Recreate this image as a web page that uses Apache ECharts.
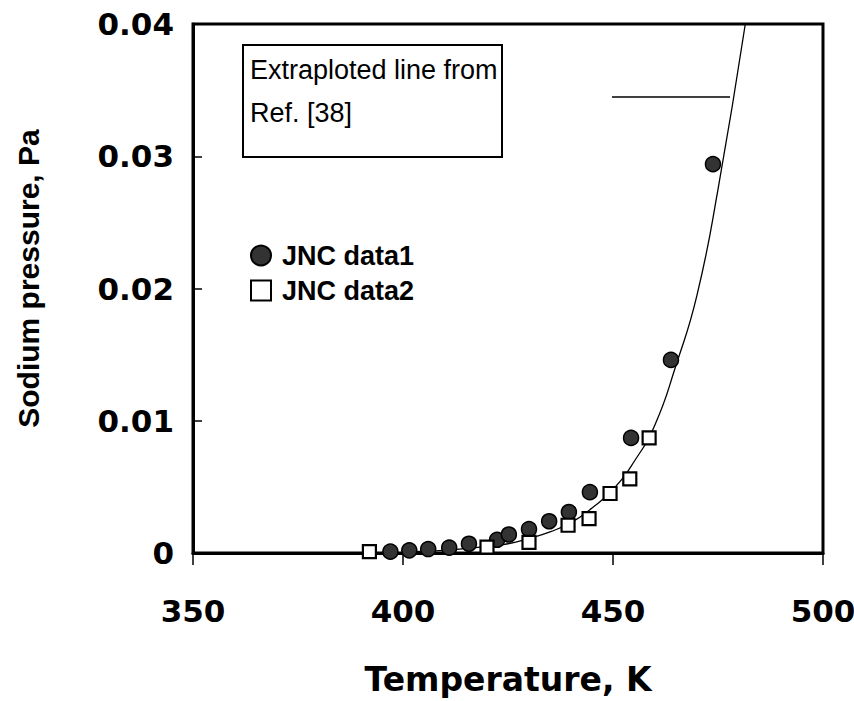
<!DOCTYPE html>
<html>
<head>
<meta charset="utf-8">
<script src="https://cdn.jsdelivr.net/npm/echarts@6/dist/echarts.min.js"></script>
<style>html,body{margin:0;padding:0;background:#fff;}#c{width:854px;height:701px;}</style>
</head>
<body>
<div id="c"></div>
<script>
// Data
var data1T = [397, 401.5, 406, 411, 415.7, 422.4, 425.2, 430, 434.8, 439.5, 444.5, 454.3, 463.8, 473.8];
var data1P = [0.0001, 0.0002, 0.0003, 0.0004, 0.0007, 0.0010, 0.0014, 0.0018, 0.0024, 0.0031, 0.0046, 0.0087, 0.0146, 0.0294];
var data2T = [392, 420, 430, 439.3, 444.3, 449.3, 454, 458.6];
var data2P = [0.0001, 0.00045, 0.0008, 0.0021, 0.0026, 0.0045, 0.0056, 0.0087];
var curveT = [400, 410, 420, 425, 430, 435, 440, 445, 450, 455, 460, 465, 470, 475, 481.5];
var curveP = [0.0001, 0.0002, 0.0005, 0.0007, 0.0011, 0.0016, 0.0023, 0.0034, 0.0048, 0.0069, 0.0097, 0.0142, 0.0195, 0.0275, 0.040];
var xTicks = [350, 400, 450, 500];
var yTicks = [0, 0.01, 0.02, 0.03, 0.04];

function pairs(a, b) { return a.map(function (v, i) { return [v, b[i]]; }); }

var TICKFONT = '"DejaVu Sans", sans-serif';
var FONT = '"Liberation Sans", Arial, sans-serif';
var chart = echarts.init(document.getElementById('c'), null, { renderer: 'svg' });
chart.setOption({
  backgroundColor: '#fff',
  animation: false,
  grid: { left: 193, right: 31, top: 24, bottom: 148, containLabel: false, outerBoundsMode: 'none',
    show: true, borderColor: '#000', borderWidth: 3, backgroundColor: 'transparent' },
  xAxis: {
    type: 'value', min: xTicks[0], max: xTicks[xTicks.length - 1], interval: 50,
    name: 'Temperature, K', nameLocation: 'middle', nameGap: 108,
    nameTextStyle: { fontFamily: TICKFONT, fontWeight: 'bold', fontSize: 33, color: '#000', lineHeight: 36 },
    axisLine: { show: true, lineStyle: { color: '#000', width: 3 } },
    axisTick: { show: true, inside: false, length: 12, lineStyle: { color: '#000', width: 1.5 } },
    axisLabel: { margin: 42, fontFamily: TICKFONT, fontWeight: 'bold', fontSize: 31, color: '#000' },
    splitLine: { show: false }
  },
  yAxis: {
    type: 'value', min: yTicks[0], max: yTicks[yTicks.length - 1], interval: 0.01,
    name: 'Sodium pressure, Pa', nameLocation: 'middle', nameGap: 150, nameRotate: 90,
    nameTextStyle: { fontFamily: FONT, fontWeight: 'bold', fontSize: 30, color: '#000', padding: [0, 0, 0, 20] },
    axisLine: { show: true, lineStyle: { color: '#000', width: 3 } },
    axisTick: { show: true, inside: true, length: 9, lineStyle: { color: '#000', width: 1.5 } },
    axisLabel: { margin: 19, fontFamily: TICKFONT, fontWeight: 'bold', fontSize: 31, color: '#000',
      formatter: function (v) { return v === 0 ? '0' : v.toFixed(2); } },
    splitLine: { show: false }
  },
  legend: {
    data: ['JNC data1', 'JNC data2'], orient: 'vertical', left: 245, top: 237,
    itemGap: 8, itemWidth: 20, itemHeight: 20,
    textStyle: { fontFamily: FONT, fontWeight: 'bold', fontSize: 27, color: '#000', padding: [0, 0, 0, 6] }
  },
  graphic: [
    { type: 'rect', shape: { x: 243, y: 45, width: 259, height: 112 }, style: { fill: '#fff', stroke: '#000', lineWidth: 2 }, z: 10 },
    { type: 'text', x: 250, y: 48, style: { text: 'Extraploted line from\nRef. [38]', font: '27px "Liberation Sans", sans-serif', fill: '#000', lineHeight: 43 }, z: 11 },
    { type: 'line', shape: { x1: 612, y1: 97, x2: 730, y2: 97 }, style: { stroke: '#000', lineWidth: 1.5 }, z: 11 }
  ],
  series: [
    { name: 'Extraploted line', type: 'line', data: pairs(curveT, curveP), smooth: true, showSymbol: false, symbol: 'none',
      lineStyle: { color: '#000', width: 1.3 }, clip: true, z: 2 },
    { name: 'JNC data1', type: 'scatter', data: pairs(data1T, data1P), symbol: 'circle', symbolSize: 15,
      itemStyle: { color: '#333', borderColor: '#000', borderWidth: 1.5, opacity: 1 }, z: 3 },
    { name: 'JNC data2', type: 'scatter', data: pairs(data2T, data2P), symbol: 'rect', symbolSize: 13,
      itemStyle: { color: '#fff', borderColor: '#000', borderWidth: 2.2, opacity: 1 }, z: 4 }
  ]
});
</script>
</body>
</html>
